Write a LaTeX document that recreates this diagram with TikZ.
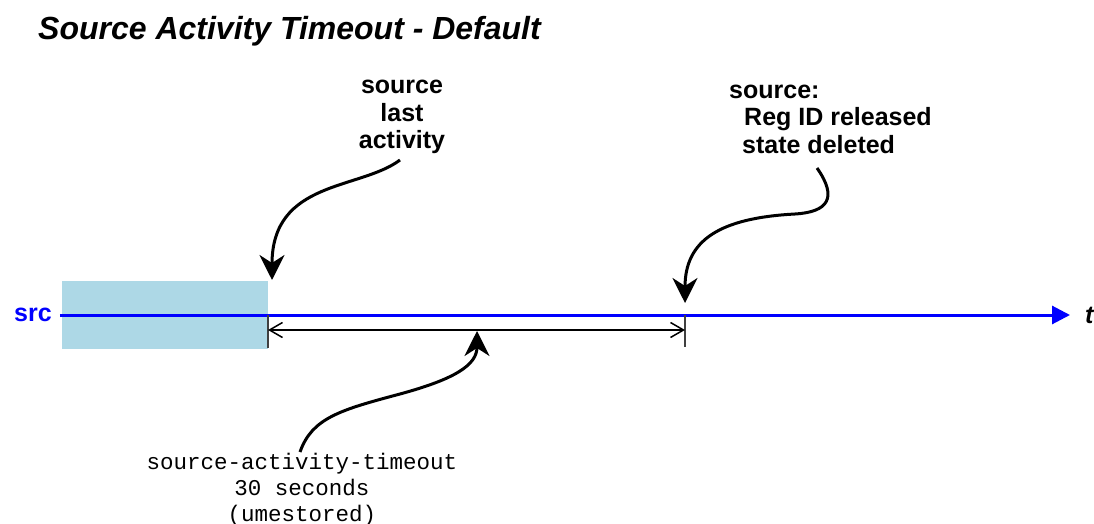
\documentclass[tikz,border=0pt]{standalone}
\usepackage{fontspec}
\setmainfont{Liberation Sans}
\newfontfamily\monofont{Liberation Mono}
\usetikzlibrary{arrows.meta}
\definecolor{boxblue}{RGB}{173,216,230}
\definecolor{lineblue}{RGB}{0,0,255}
\begin{document}
\begin{tikzpicture}[x=1pt,y=-1pt,
  lbl/.style={font=\fontsize{25}{27.5}\selectfont\bfseries, inner sep=0pt},
  curvy/.style={line width=3pt, -{Stealth[length=25pt,width=25pt,inset=8pt]}},
  tickline/.style={line width=1.5pt, draw=black!75},
  span/.style={line width=1.5pt, {Straight Barb[length=13pt,width=15pt]}-{Straight Barb[length=13pt,width=15pt]}}
]
\useasboundingbox (0,0) rectangle (1094,524);

% title
\node[anchor=base west, inner sep=0pt, font=\fontsize{32}{36}\selectfont\bfseries\itshape] (title) at (38,40) {Source Activity Timeout - Default};

% activity box
\node[fill=boxblue, minimum width=206pt, minimum height=68pt, inner sep=0pt, anchor=north west] (box) at (62,281) {};

% src time line
\node[lbl, text=lineblue] (src) at (33,315) {src};
\coordinate (lend) at (1070,315);
\draw[lineblue, line width=3pt, -{Triangle[length=18pt,width=18pt]}] ([xshift=8pt]src.east) -- (lend);
\node[lbl, font=\fontsize{25}{27}\selectfont\bfseries\itshape, anchor=base west] (t) at (1085,323) {t};

% ticks
\coordinate (t1a) at (268,315); \coordinate (t1b) at (268,348);
\coordinate (t2a) at (685,315); \coordinate (t2b) at (685,347);
\draw[tickline] (t1a) -- (t1b);
\draw[tickline] (t2a) -- (t2b);

% span arrow
\coordinate (s1) at (268,330); \coordinate (s2) at (685,330);
\draw[span] (s1) -- (s2);

% labels
\node[lbl, align=center] (last) at (402,117) {source\\last\\activity};
\node[lbl, align=left, anchor=west] (rel) at (729,119) {source:\\\hspace*{15pt}Reg ID released\\\hspace*{13pt}state deleted};
\node[inner sep=0pt, align=center, font=\monofont\fontsize{22.5}{26}\selectfont] (tmo) at (302,490) {source-activity-timeout\\30 seconds\\(umestored)};

% curved arrows
\coordinate (a1s) at (400,160); \coordinate (a1e) at (272,280);
\draw[curvy] (a1s) .. controls (360,190) and (272,180) .. (a1e);

\coordinate (a2s) at (817,168); \coordinate (a2m) at (795,214); \coordinate (a2e) at (685,303);
\draw[curvy] (a2s) .. controls (838,198) and (828,212) .. (a2m) .. controls (720,218) and (685,240) .. (a2e);

\coordinate (a3s) at (300,452); \coordinate (a3m) at (400,394); \coordinate (a3e) at (477,331);
\draw[curvy] (a3s) .. controls (312,418) and (340,410) .. (a3m) .. controls (455,379) and (477,365) .. (a3e);
\end{tikzpicture}
\end{document}
